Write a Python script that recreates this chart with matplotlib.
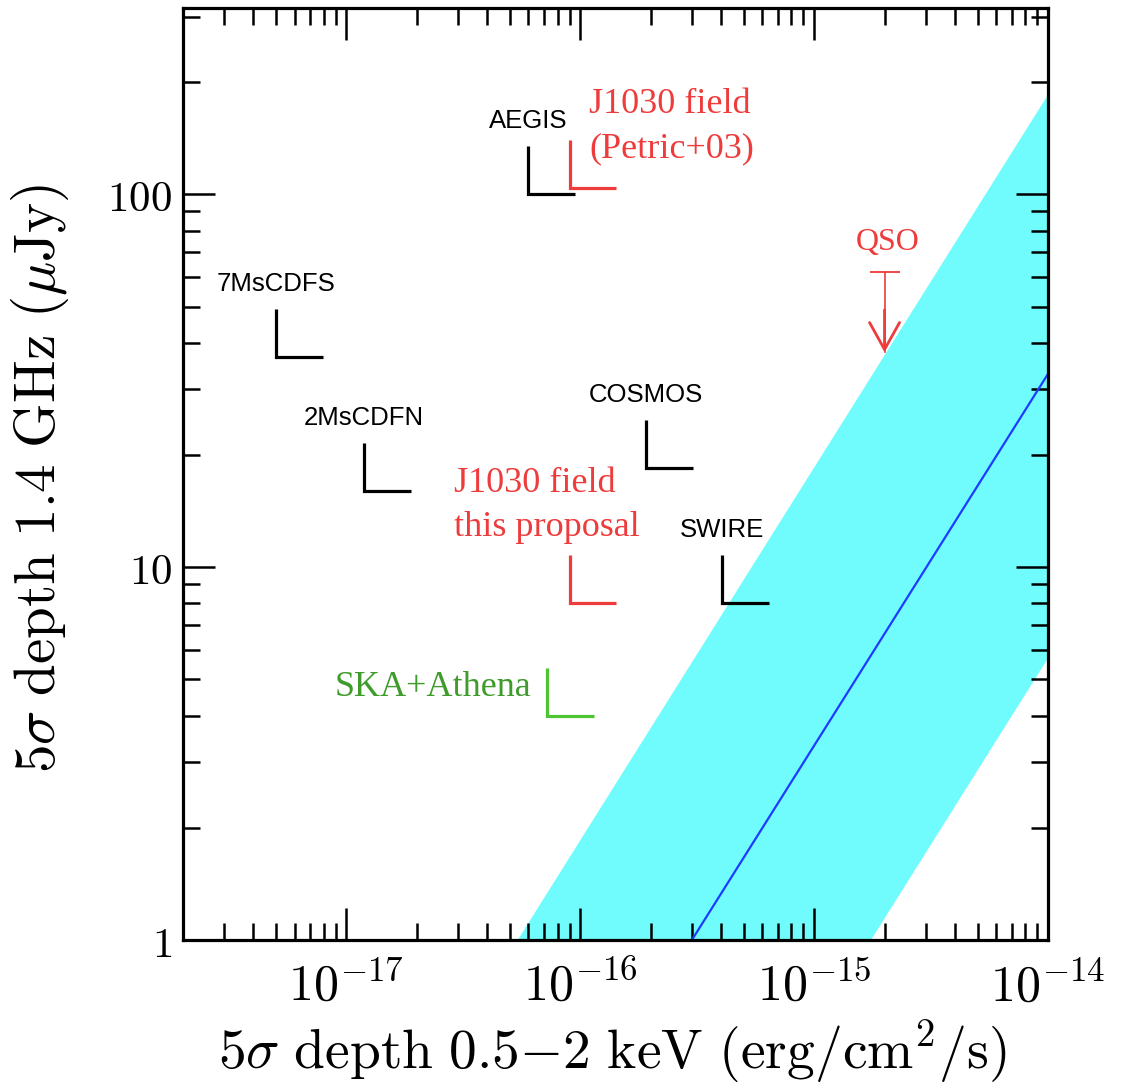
import numpy as np
import matplotlib
matplotlib.use("Agg")
import matplotlib.pyplot as plt

plt.rcParams["mathtext.fontset"] = "cm"
plt.rcParams["font.family"] = ["DejaVu Serif"]

# survey depths: 0.5-2 keV flux limit (erg/cm2/s) and 1.4 GHz 5 sigma limit (uJy)
black_names = ["7MsCDFS", "2MsCDFN", "AEGIS", "COSMOS", "SWIRE"]
black_xray = [5.0e-18, 1.19e-17, 6.0e-17, 1.91e-16, 4.04e-16]
black_radio = [36.6, 16.0, 100.0, 18.4, 8.0]

j1030_names = ["J1030 field\n(Petric+03)", "J1030 field\nthis proposal"]
j1030_xray = [9.0e-17, 9.0e-17]
j1030_radio = [104.0, 8.0]

ska_name = "SKA+Athena"
ska_xray = 7.2e-17
ska_radio = 4.0

# QSO radio upper limit
qso_xray = 2.0e-15
qso_radio = 62.0
qso_arrow_tip = 37.7

# radio-quiet QSO relation (central line) and its scatter band
line_xray = [3.0e-16, 1.0e-14]
line_radio = [1.0, 33.0]
band_xray = [5.4e-17, 1.0e-14, 1.0e-14, 1.75e-15]
band_radio = [1.0, 185.0, 5.7, 1.0]

xticks = [1e-17, 1e-16, 1e-15, 1e-14]
xtick_labels = [r"$10^{-17}$", r"$10^{-16}$", r"$10^{-15}$", r"$10^{-14}$"]
yticks = [1, 10, 100]
ytick_labels = [r"$1$", r"$10$", r"$100$"]

RED = "#EE3B3B"
GREEN_LINE = "#4DC431"
GREEN_TEXT = "#3F9B2C"
ARM_X = 1.585   # horizontal arm of the depth corner
ARM_Y = 1.345   # vertical arm of the depth corner


def corner(ax, x, y, color):
    ax.plot([x * ARM_X, x, x], [y, y, y * ARM_Y], color=color, lw=2.3,
            solid_joinstyle="miter", solid_capstyle="butt", zorder=4)


fig = plt.figure(figsize=(11.28, 10.85), dpi=100)
ax = fig.add_axes([0.16223, 0.13364, 0.76684, 0.85899])
ax.set_xscale("log")
ax.set_yscale("log")
ax.set_xlim(2e-18, 1e-14)
ax.set_ylim(1, 10 ** 2.5)

ax.fill(band_xray, band_radio, color="#70FCFC", lw=0, zorder=1)
ax.plot(line_xray, line_radio, color="#1E3CFF", lw=1.6, zorder=2)

for name, x, y in zip(black_names, black_xray, black_radio):
    corner(ax, x, y, "black")
    ax.annotate(name, (x, y * ARM_Y), xytext=(0, 18), textcoords="offset points",
                ha="center", va="center", fontsize=18.5, family="Liberation Sans")

# J1030 field depths
corner(ax, j1030_xray[0], j1030_radio[0], RED)
ax.annotate(j1030_names[0], (j1030_xray[0], j1030_radio[0] * ARM_Y),
            xytext=(14, -18), textcoords="offset points", ha="left", va="bottom",
            fontsize=26, color=RED, family="Liberation Serif", linespacing=1.45)
corner(ax, j1030_xray[1], j1030_radio[1], RED)
ax.annotate(j1030_names[1], (j1030_xray[1], j1030_radio[1] * ARM_Y),
            xytext=(-83, 8), textcoords="offset points", ha="left", va="bottom",
            fontsize=26, color=RED, family="Liberation Serif", linespacing=1.45)

corner(ax, ska_xray, ska_radio, GREEN_LINE)
ax.annotate(ska_name, (ska_xray, ska_radio * ARM_Y), xytext=(-11, -14),
            textcoords="offset points", ha="right", va="center",
            fontsize=26, color=GREEN_TEXT, family="Liberation Serif")

# QSO upper limit: cap, thin stem, bold arrow head
ax.plot([qso_xray], [qso_radio], marker="_", ms=22, mew=1.3, color=RED, zorder=4)
ax.plot([qso_xray, qso_xray], [qso_radio, qso_arrow_tip], color=RED, lw=1.2, zorder=4)
ax.annotate("", xy=(qso_xray, qso_arrow_tip), xytext=(qso_xray, qso_arrow_tip * 1.3),
            arrowprops=dict(arrowstyle="->,head_length=0.97,head_width=0.54",
                            mutation_scale=20, color=RED, lw=2.0,
                            shrinkA=0, shrinkB=0), zorder=4)
ax.annotate("QSO", (qso_xray, qso_radio), xytext=(2, 21), textcoords="offset points",
            ha="center", va="center", fontsize=23, color=RED,
            family="Liberation Serif")

ax.set_xticks(xticks, xtick_labels)
ax.set_yticks(yticks, ytick_labels)
ax.tick_params(which="both", direction="in", top=True, right=True, width=1.8)
ax.tick_params(which="major", length=23)
ax.tick_params(which="minor", length=12)
ax.tick_params(axis="x", which="major", labelsize=36, pad=16)
ax.tick_params(axis="y", which="major", labelsize=31, pad=8)
for side in ["left", "right", "bottom", "top"]:
    ax.spines[side].set_linewidth(2.3)
    ax.spines[side].set_zorder(5)

ax.set_xlabel(r"$\mathrm{5\sigma\ depth\ 0.5{-}2\ keV\ (erg/cm^{2}/s)}$", fontsize=40)
ax.set_ylabel(r"$\mathrm{5\sigma\ depth\ 1.4\ GHz\ (\mu Jy)}$", fontsize=41)
ax.xaxis.set_label_coords(0.496, -0.12)
ax.xaxis.label.set_va("center")
ax.yaxis.set_label_coords(-0.165, 0.495)
ax.yaxis.label.set_va("center")

fig.savefig("out.png", dpi=100)
